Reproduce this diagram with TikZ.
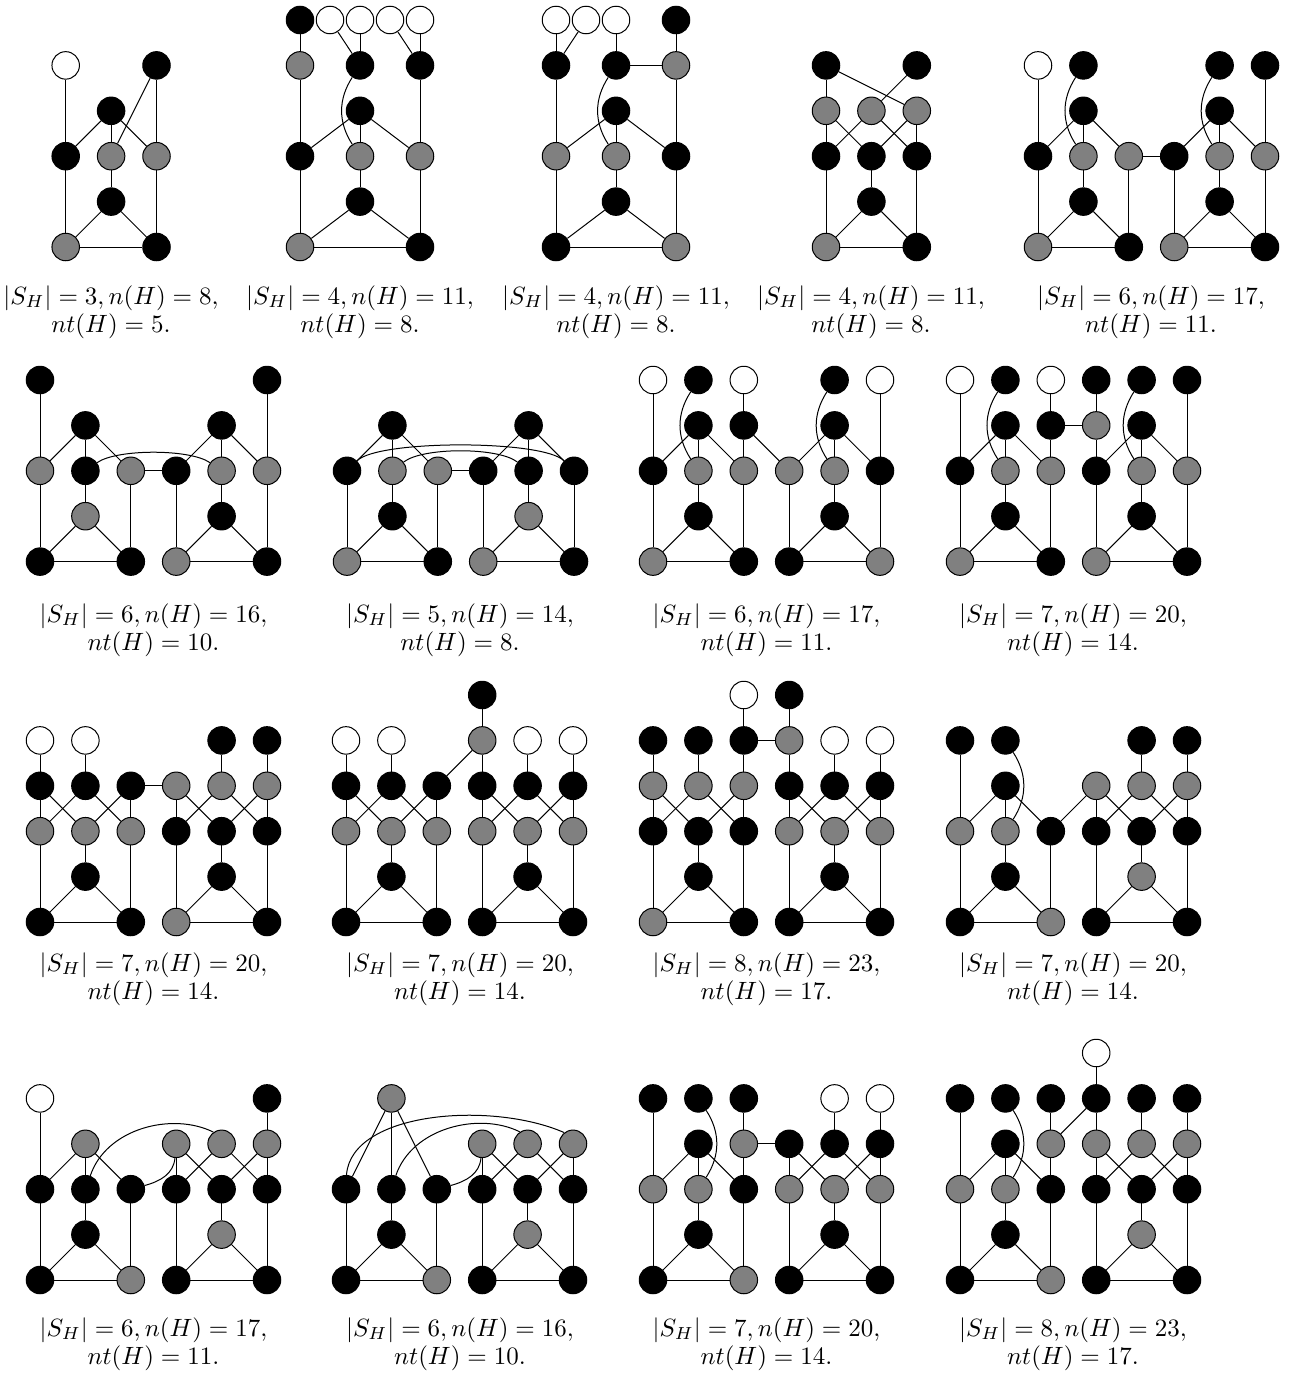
\documentclass[tikz,border=0pt]{standalone}
\usepackage{amsmath, amssymb}
\usepackage{tikz}
\usepackage{xcolor}
\definecolor{vN}{HTML}{000000}
\definecolor{vG}{HTML}{808080}
\definecolor{vB}{HTML}{FFFFFF}

\begin{document}
\begin{tikzpicture}[x=0.4pt, y=0.4pt,
    vert/.style={circle, draw=black, line width=0.4pt, fill=#1, minimum size=11pt, inner sep=0pt},
    arista/.style={line width=0.4pt},
    celda/.style={x=18.16pt, y=18.16pt},
    celdaAncha/.style={x=12pt, y=18.16pt},
    leyenda/.style={align=center, font=\fontsize{10}{11.3}\selectfont}]
  \useasboundingbox (0,0) rectangle (1290,-1386);

  % Fila 1, grafo a
  \begin{scope}[shift={(65.7,-20)}, celda]
    \foreach \n/\c/\r/\cl in {1/0/1/vB, 2/2/1/vN, 3/1/2/vN, 4/0/3/vN, 5/1/3/vG, 6/2/3/vG, 7/1/4/vN, 8/0/5/vG, 9/2/5/vN}
      \node[vert=\cl] (a\n) at (\c,-\r) {};
    \foreach \u/\w in {1/4, 4/8, 3/4, 3/5, 3/6, 2/5, 2/6, 5/7, 7/8, 7/9, 8/9, 6/9}
      \draw[arista] (a\u) -- (a\w);
  \end{scope}

  % Fila 1, grafo b
  \begin{scope}[shift={(300,-20)}, celdaAncha]
    \foreach \n/\c/\r/\cl in {1/0/0/vN, 2/1/0/vB, 3/2/0/vB, 4/3/0/vB, 5/4/0/vB, 6/0/1/vG, 7/2/1/vN, 8/4/1/vN,
        9/2/2/vN, 10/0/3/vN, 11/2/3/vG, 12/4/3/vG, 13/2/4/vN, 14/0/5/vG, 15/4/5/vN}
      \node[vert=\cl] (b\n) at (\c,-\r) {};
    \foreach \u/\w in {1/6, 2/7, 3/7, 4/8, 5/8, 6/10, 9/10, 9/11, 9/12, 8/12, 10/14, 11/13, 13/14, 13/15, 14/15, 12/15}
      \draw[arista] (b\u) -- (b\w);
    \draw[arista] (b7) to[bend right=33] (b11);
  \end{scope}

  % Fila 1, grafo c
  \begin{scope}[shift={(556,-20)}, celdaAncha]
    \foreach \n/\c/\r/\cl in {1/0/0/vB, 2/1/0/vB, 3/2/0/vB, 4/4/0/vN, 5/0/1/vN, 6/2/1/vN, 7/4/1/vG,
        8/2/2/vN, 9/0/3/vG, 10/2/3/vG, 11/4/3/vN, 12/2/4/vN, 13/0/5/vN, 14/4/5/vG}
      \node[vert=\cl] (c\n) at (\c,-\r) {};
    \foreach \u/\w in {1/5, 2/5, 3/6, 4/7, 6/7, 5/9, 8/9, 8/10, 8/11, 7/11, 9/13, 10/12, 12/13, 12/14, 13/14, 11/14}
      \draw[arista] (c\u) -- (c\w);
    \draw[arista] (c6) to[bend right=33] (c10);
  \end{scope}

  % Fila 1, grafo d
  \begin{scope}[shift={(826,-20)}, celda]
    \foreach \n/\c/\r/\cl in {1/0/1/vN, 2/2/1/vN, 3/0/2/vG, 4/1/2/vG, 5/2/2/vG, 6/0/3/vN, 7/1/3/vN, 8/2/3/vN,
        9/1/4/vN, 10/0/5/vG, 11/2/5/vN}
      \node[vert=\cl] (d\n) at (\c,-\r) {};
    \foreach \u/\w in {1/3, 1/5, 2/4, 3/6, 3/7, 4/6, 4/8, 5/7, 5/8, 6/10, 7/9, 9/10, 9/11, 10/11, 8/11}
      \draw[arista] (d\u) -- (d\w);
  \end{scope}

  % Fila 1, grafo e
  \begin{scope}[shift={(1038,-20)}, celda]
    \foreach \n/\c/\r/\cl in {1/0/1/vB, 2/1/1/vN, 3/4/1/vN, 4/5/1/vN, 5/1/2/vN, 6/4/2/vN, 7/0/3/vN, 8/1/3/vG,
        9/2/3/vG, 10/3/3/vN, 11/4/3/vG, 12/5/3/vG, 13/1/4/vN, 14/4/4/vN, 15/0/5/vG, 16/2/5/vN, 17/3/5/vG, 18/5/5/vN}
      \node[vert=\cl] (e\n) at (\c,-\r) {};
    \foreach \u/\w in {1/7, 5/7, 5/8, 5/9, 9/10, 6/10, 6/11, 6/12, 4/12, 7/15, 8/13, 13/15, 13/16, 15/16, 9/16,
        10/17, 11/14, 14/17, 14/18, 17/18, 12/18}
      \draw[arista] (e\u) -- (e\w);
    \draw[arista] (e2) to[bend right=33] (e8);
    \draw[arista] (e3) to[bend right=33] (e11);
  \end{scope}

  % Fila 2, grafo f
  \begin{scope}[shift={(40,-380)}, celda]
    \foreach \n/\c/\r/\cl in {1/0/0/vN, 2/5/0/vN, 3/1/1/vN, 4/4/1/vN, 5/0/2/vG, 6/1/2/vN, 7/2/2/vG, 8/3/2/vN,
        9/4/2/vG, 10/5/2/vG, 11/1/3/vG, 12/4/3/vN, 13/0/4/vN, 14/2/4/vN, 15/3/4/vG, 16/5/4/vN}
      \node[vert=\cl] (f\n) at (\c,-\r) {};
    \foreach \u/\w in {1/5, 2/10, 3/5, 3/6, 3/7, 4/8, 4/9, 4/10, 7/8, 5/13, 6/11, 11/13, 11/14, 13/14, 7/14,
        8/15, 9/12, 12/15, 12/16, 15/16, 10/16}
      \draw[arista] (f\u) -- (f\w);
    \draw[arista] (f6) to[out=35, in=145, looseness=0.55] (f9);
  \end{scope}

  % Fila 2, grafo g
  \begin{scope}[shift={(347,-380)}, celda]
    \foreach \n/\c/\r/\cl in {1/1/1/vN, 2/4/1/vN, 3/0/2/vN, 4/1/2/vG, 5/2/2/vG, 6/3/2/vN, 7/4/2/vN, 8/5/2/vN,
        9/1/3/vN, 10/4/3/vG, 11/0/4/vG, 12/2/4/vN, 13/3/4/vG, 14/5/4/vN}
      \node[vert=\cl] (g\n) at (\c,-\r) {};
    \foreach \u/\w in {1/3, 1/4, 1/5, 2/6, 2/7, 2/8, 5/6, 3/11, 4/9, 9/11, 9/12, 11/12, 5/12, 6/13, 7/10,
        10/13, 10/14, 13/14, 8/14}
      \draw[arista] (g\u) -- (g\w);
    \draw[arista] (g3) to[out=45, in=135, looseness=0.37] (g8);
    \draw[arista] (g4) to[out=38, in=142, looseness=0.55] (g7);
  \end{scope}

  % Fila 2, grafo h
  \begin{scope}[shift={(653,-380)}, celda]
    \foreach \n/\c/\r/\cl in {1/0/0/vB, 2/1/0/vN, 3/2/0/vB, 4/4/0/vN, 5/5/0/vB, 6/1/1/vN, 7/2/1/vN, 8/4/1/vN,
        9/0/2/vN, 10/1/2/vG, 11/2/2/vG, 12/3/2/vG, 13/4/2/vG, 14/5/2/vN, 15/1/3/vN, 16/4/3/vN,
        17/0/4/vG, 18/2/4/vN, 19/3/4/vN, 20/5/4/vG}
      \node[vert=\cl] (h\n) at (\c,-\r) {};
    \foreach \u/\w in {1/9, 3/7, 5/14, 6/9, 6/10, 6/11, 7/11, 7/12, 8/12, 8/13, 8/14, 9/17, 10/15, 15/17,
        15/18, 17/18, 11/18, 12/19, 13/16, 16/19, 16/20, 19/20, 14/20}
      \draw[arista] (h\u) -- (h\w);
    \draw[arista] (h2) to[bend right=33] (h10);
    \draw[arista] (h4) to[bend right=33] (h13);
  \end{scope}

  % Fila 2, grafo i
  \begin{scope}[shift={(960,-380)}, celda]
    \foreach \n/\c/\r/\cl in {1/0/0/vB, 2/1/0/vN, 3/2/0/vB, 4/3/0/vN, 5/4/0/vN, 6/5/0/vN, 7/1/1/vN, 8/2/1/vN,
        9/3/1/vG, 10/4/1/vN, 11/0/2/vN, 12/1/2/vG, 13/2/2/vG, 14/3/2/vN, 15/4/2/vG, 16/5/2/vG,
        17/1/3/vN, 18/4/3/vN, 19/0/4/vG, 20/2/4/vN, 21/3/4/vG, 22/5/4/vN}
      \node[vert=\cl] (i\n) at (\c,-\r) {};
    \foreach \u/\w in {1/11, 3/8, 4/9, 8/9, 6/16, 7/11, 7/12, 7/13, 8/13, 9/14, 10/14, 10/15, 10/16, 11/19,
        12/17, 17/19, 17/20, 19/20, 13/20, 14/21, 15/18, 18/21, 18/22, 21/22, 16/22}
      \draw[arista] (i\u) -- (i\w);
    \draw[arista] (i2) to[bend right=33] (i12);
    \draw[arista] (i5) to[bend right=33] (i15);
  \end{scope}

  % Fila 3, grafo j
  \begin{scope}[shift={(40,-695)}, celda]
    \foreach \n/\c/\r/\cl in {1/0/1/vB, 2/1/1/vB, 3/4/1/vN, 4/5/1/vN, 5/0/2/vN, 6/1/2/vN, 7/2/2/vN, 8/3/2/vG,
        9/4/2/vG, 10/5/2/vG, 11/0/3/vG, 12/1/3/vG, 13/2/3/vG, 14/3/3/vN, 15/4/3/vN, 16/5/3/vN,
        17/1/4/vN, 18/4/4/vN, 19/0/5/vN, 20/2/5/vN, 21/3/5/vG, 22/5/5/vN}
      \node[vert=\cl] (j\n) at (\c,-\r) {};
    \foreach \u/\w in {1/5, 2/6, 3/9, 4/10, 7/8, 5/11, 5/12, 6/11, 6/13, 7/12, 7/13, 8/14, 8/15, 9/14, 9/16,
        10/15, 10/16, 11/19, 12/17, 17/19, 17/20, 19/20, 13/20, 14/21, 15/18, 18/21, 18/22, 21/22, 16/22}
      \draw[arista] (j\u) -- (j\w);
  \end{scope}

  % Fila 3, grafo k
  \begin{scope}[shift={(346,-695)}, celda]
    \foreach \n/\c/\r/\cl in {1/3/0/vN, 2/0/1/vB, 3/1/1/vB, 4/3/1/vG, 5/4/1/vB, 6/5/1/vB, 7/0/2/vN, 8/1/2/vN,
        9/2/2/vN, 10/3/2/vN, 11/4/2/vN, 12/5/2/vN, 13/0/3/vG, 14/1/3/vG, 15/2/3/vG, 16/3/3/vG, 17/4/3/vG,
        18/5/3/vG, 19/1/4/vN, 20/4/4/vN, 21/0/5/vN, 22/2/5/vN, 23/3/5/vN, 24/5/5/vN}
      \node[vert=\cl] (k\n) at (\c,-\r) {};
    \foreach \u/\w in {1/4, 4/9, 4/10, 2/7, 3/8, 5/11, 6/12, 7/13, 7/14, 8/13, 8/15, 9/14, 9/15, 10/16, 10/17,
        11/16, 11/18, 12/17, 12/18, 13/21, 14/19, 19/21, 19/22, 21/22, 15/22, 16/23, 17/20, 20/23, 20/24,
        23/24, 18/24}
      \draw[arista] (k\u) -- (k\w);
  \end{scope}

  % Fila 3, grafo l
  \begin{scope}[shift={(653,-695)}, celda]
    \foreach \n/\c/\r/\cl in {1/2/0/vB, 2/3/0/vN, 3/0/1/vN, 4/1/1/vN, 5/2/1/vN, 6/3/1/vG, 7/4/1/vB, 8/5/1/vB,
        9/0/2/vG, 10/1/2/vG, 11/2/2/vG, 12/3/2/vN, 13/4/2/vN, 14/5/2/vN, 15/0/3/vN, 16/1/3/vN, 17/2/3/vN,
        18/3/3/vG, 19/4/3/vG, 20/5/3/vG, 21/1/4/vN, 22/4/4/vN, 23/0/5/vG, 24/2/5/vN, 25/3/5/vN, 26/5/5/vN}
      \node[vert=\cl] (l\n) at (\c,-\r) {};
    \foreach \u/\w in {1/5, 2/6, 5/6, 3/9, 4/10, 5/11, 6/12, 7/13, 8/14, 9/15, 9/16, 10/15, 10/17, 11/16,
        11/17, 12/18, 12/19, 13/18, 13/20, 14/19, 14/20, 15/23, 16/21, 21/23, 21/24, 23/24, 17/24, 18/25,
        19/22, 22/25, 22/26, 25/26, 20/26}
      \draw[arista] (l\u) -- (l\w);
  \end{scope}

  % Fila 3, grafo m
  \begin{scope}[shift={(960,-695)}, celda]
    \foreach \n/\c/\r/\cl in {1/0/1/vN, 2/1/1/vN, 3/4/1/vN, 4/5/1/vN, 5/1/2/vN, 6/3/2/vG, 7/4/2/vG, 8/5/2/vG,
        9/0/3/vG, 10/1/3/vG, 11/2/3/vN, 12/3/3/vN, 13/4/3/vN, 14/5/3/vN, 15/1/4/vN, 16/4/4/vG,
        17/0/5/vN, 18/2/5/vG, 19/3/5/vN, 20/5/5/vN}
      \node[vert=\cl] (m\n) at (\c,-\r) {};
    \foreach \u/\w in {1/9, 5/9, 5/10, 5/11, 6/11, 3/7, 4/8, 6/12, 6/13, 7/12, 7/14, 8/13, 8/14, 9/17, 10/15,
        15/17, 15/18, 17/18, 11/18, 12/19, 13/16, 16/19, 16/20, 19/20, 14/20}
      \draw[arista] (m\u) -- (m\w);
    \draw[arista] (m2) to[bend left=33] (m10);
  \end{scope}

  % Fila 4, grafo n
  \begin{scope}[shift={(40,-1053)}, celda]
    \foreach \n/\c/\r/\cl in {1/0/1/vB, 2/5/1/vN, 3/1/2/vG, 4/3/2/vG, 5/4/2/vG, 6/5/2/vG, 7/0/3/vN, 8/1/3/vN,
        9/2/3/vN, 10/3/3/vN, 11/4/3/vN, 12/5/3/vN, 13/1/4/vN, 14/4/4/vG, 15/0/5/vN, 16/2/5/vG, 17/3/5/vN, 18/5/5/vN}
      \node[vert=\cl] (n\n) at (\c,-\r) {};
    \foreach \u/\w in {1/7, 2/6, 3/7, 3/8, 3/9, 4/10, 4/11, 5/10, 5/12, 6/11, 6/12, 7/15, 8/13, 13/15, 13/16,
        15/16, 9/16, 10/17, 11/14, 14/17, 14/18, 17/18, 12/18}
      \draw[arista] (n\u) -- (n\w);
    \draw[arista] (n8.70) .. controls +(0.35,1.05) and +(-0.9,0.45) .. (n5.125);
    \draw[arista] (n9) to[out=15, in=-95] (n4);
  \end{scope}

  % Fila 4, grafo o
  \begin{scope}[shift={(346,-1053)}, celda]
    \foreach \n/\c/\r/\cl in {1/1/1/vG, 2/3/2/vG, 3/4/2/vG, 4/5/2/vG, 5/0/3/vN, 6/1/3/vN, 7/2/3/vN, 8/3/3/vN,
        9/4/3/vN, 10/5/3/vN, 11/1/4/vN, 12/4/4/vG, 13/0/5/vN, 14/2/5/vG, 15/3/5/vN, 16/5/5/vN}
      \node[vert=\cl] (o\n) at (\c,-\r) {};
    \foreach \u/\w in {1/5, 1/6, 1/7, 2/8, 2/9, 3/8, 3/10, 4/9, 4/10, 5/13, 6/11, 11/13, 11/14, 13/14, 7/14,
        8/15, 9/12, 12/15, 12/16, 15/16, 10/16}
      \draw[arista] (o\u) -- (o\w);
    \draw[arista] (o5.88) .. controls +(0.1,1.4) and +(-1.6,0.7) .. (o4.128);
    \draw[arista] (o6.72) .. controls +(0.35,1.05) and +(-0.9,0.45) .. (o3.123);
    \draw[arista] (o7) to[out=15, in=-95] (o2);
  \end{scope}

  % Fila 4, grafo p
  \begin{scope}[shift={(653,-1053)}, celda]
    \foreach \n/\c/\r/\cl in {1/0/1/vN, 2/1/1/vN, 3/2/1/vN, 4/4/1/vB, 5/5/1/vB, 6/1/2/vN, 7/2/2/vG, 8/3/2/vN,
        9/4/2/vN, 10/5/2/vN, 11/0/3/vG, 12/1/3/vG, 13/2/3/vN, 14/3/3/vG, 15/4/3/vG, 16/5/3/vG,
        17/1/4/vN, 18/4/4/vN, 19/0/5/vN, 20/2/5/vG, 21/3/5/vN, 22/5/5/vN}
      \node[vert=\cl] (p\n) at (\c,-\r) {};
    \foreach \u/\w in {1/11, 3/7, 7/8, 7/13, 6/11, 6/12, 6/13, 4/9, 5/10, 8/14, 8/15, 9/14, 9/16, 10/15, 10/16,
        11/19, 12/17, 17/19, 17/20, 19/20, 13/20, 14/21, 15/18, 18/21, 18/22, 21/22, 16/22}
      \draw[arista] (p\u) -- (p\w);
    \draw[arista] (p2) to[bend left=33] (p12);
  \end{scope}

  % Fila 4, grafo q
  \begin{scope}[shift={(960,-1053)}, celda]
    \foreach \n/\c/\r/\cl in {1/3/0/vB, 2/0/1/vN, 3/1/1/vN, 4/2/1/vN, 5/3/1/vN, 6/4/1/vN, 7/5/1/vN, 8/1/2/vN,
        9/2/2/vG, 10/3/2/vG, 11/4/2/vG, 12/5/2/vG, 13/0/3/vG, 14/1/3/vG, 15/2/3/vN, 16/3/3/vN, 17/4/3/vN,
        18/5/3/vN, 19/1/4/vN, 20/4/4/vG, 21/0/5/vN, 22/2/5/vG, 23/3/5/vN, 24/5/5/vN}
      \node[vert=\cl] (q\n) at (\c,-\r) {};
    \foreach \u/\w in {1/5, 2/13, 4/9, 5/9, 5/10, 6/11, 7/12, 8/13, 8/14, 8/15, 9/15, 10/16, 10/17, 11/16,
        11/18, 12/17, 12/18, 13/21, 14/19, 19/21, 19/22, 21/22, 15/22, 16/23, 17/20, 20/23, 20/24, 23/24, 18/24}
      \draw[arista] (q\u) -- (q\w);
    \draw[arista] (q3) to[bend left=33] (q14);
  \end{scope}

  % Leyendas
  \foreach \g/\x/\y/\s/\nv/\ntv in {a/111/312/3/8/5, b/360/312/4/11/8, c/616/312/4/11/8, d/871/312/4/11/8,
      e/1151/312/6/17/11, f/153.5/630/6/16/10, g/460/630/5/14/8, h/766.5/630/6/17/11, i/1073/630/7/20/14,
      j/153.5/979/7/20/14, k/460/979/7/20/14, l/766.5/979/8/23/17, m/1073/979/7/20/14,
      n/153.5/1344/6/17/11, o/460/1344/6/16/10, p/766.5/1344/7/20/14, q/1073/1344/8/23/17}
    \node[leyenda] (ley\g) at (\x,-\y) {$|S_H|=\s, n(H)=\nv,$\\ $nt(H)=\ntv.$};
\end{tikzpicture}
\end{document}
